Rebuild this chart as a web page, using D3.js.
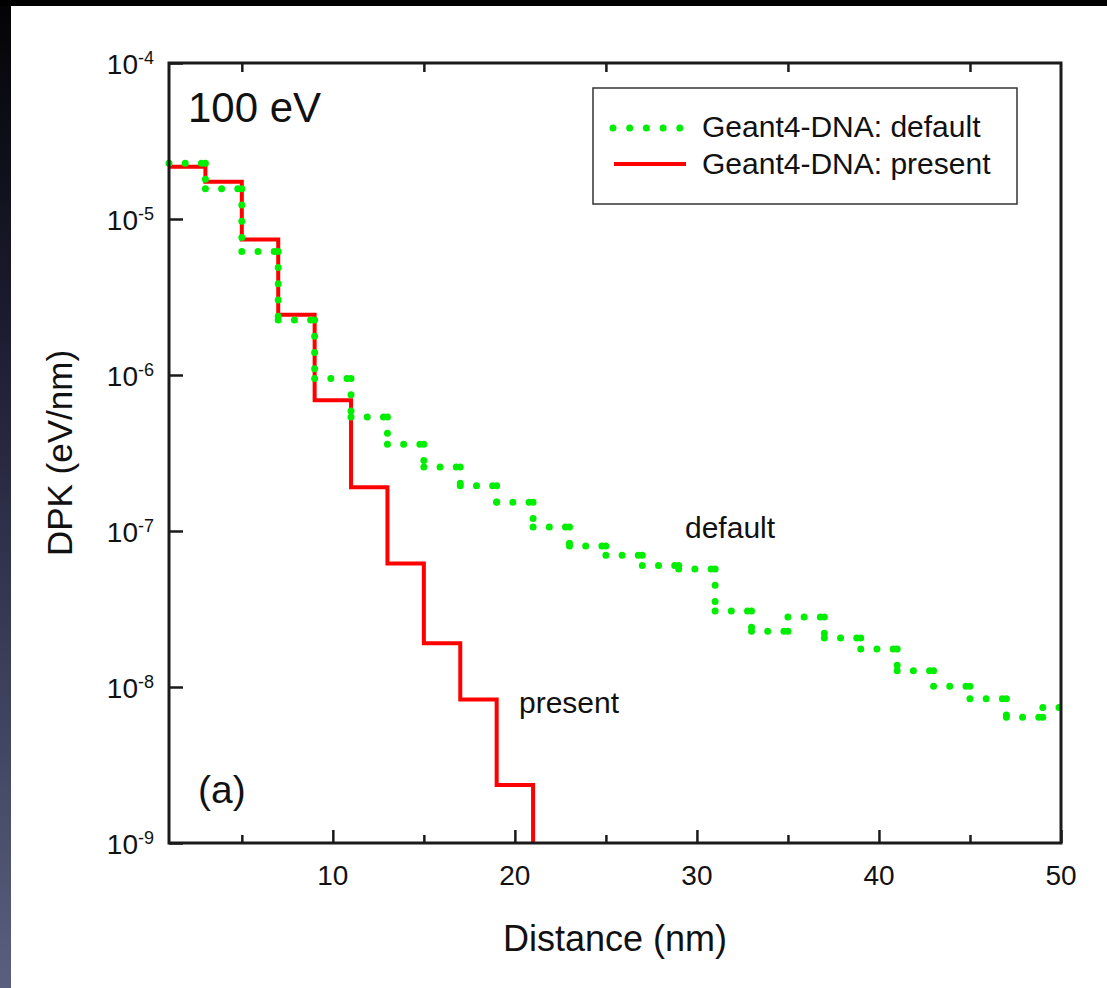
<!DOCTYPE html>
<html>
<head>
<meta charset="utf-8">
<script src="https://cdn.jsdelivr.net/npm/d3@7"></script>
<style>
  body { margin: 0; background: #000; }
  svg { display: block; }
  text { font-family: "Liberation Sans", Arial, sans-serif; fill: #111; }
</style>
</head>
<body>
<svg id="chart" width="1107" height="988"></svg>
<script>
// bins are 2 nm wide, listed by their left edge
const binWidth = 2;
const presentX = [1, 3, 5, 7, 9, 11, 13, 15, 17, 19];
const presentY = [2.16e-5, 1.73e-5, 7.4e-6, 2.43e-6, 6.9e-7, 1.91e-7, 6.2e-8, 1.91e-8, 8.3e-9, 2.35e-9];
const defaultX = [1, 3, 5, 7, 9, 11, 13, 15, 17, 19, 21, 23, 25, 27, 29, 31, 33, 35, 37, 39, 41, 43, 45, 47, 49];
const defaultY = [2.28e-5, 1.56e-5, 6.2e-6, 2.25e-6, 9.5e-7, 5.37e-7, 3.6e-7, 2.57e-7, 1.95e-7, 1.53e-7,
                  1.06e-7, 8.0e-8, 7.0e-8, 6.0e-8, 5.7e-8, 3.07e-8, 2.28e-8, 2.81e-8, 2.06e-8, 1.75e-8,
                  1.27e-8, 1.01e-8, 8.4e-9, 6.4e-9, 7.4e-9];
const xMajorTicks = [10, 20, 30, 40, 50];
const xMinorTicks = [5, 15, 25, 35, 45];
const yTickExps = [-9, -8, -7, -6, -5, -4];

const svg = d3.select("#chart");
const W = 1107, H = 988;

// page background: black band on top, dark gradient strip on the left
const defs = svg.append("defs");
const grad = defs.append("linearGradient").attr("id", "strip")
  .attr("x1", 0).attr("y1", 0).attr("x2", 0).attr("y2", 1);
grad.append("stop").attr("offset", "0").attr("stop-color", "#040406");
grad.append("stop").attr("offset", "0.35").attr("stop-color", "#1e1e34");
grad.append("stop").attr("offset", "1").attr("stop-color", "#5a5f80");
svg.append("rect").attr("width", W).attr("height", H).attr("fill", "#000");
svg.append("rect").attr("x", 0).attr("y", 6).attr("width", 11).attr("height", H - 6).attr("fill", "url(#strip)");
svg.append("rect").attr("x", 11).attr("y", 6).attr("width", W - 11).attr("height", H - 6).attr("fill", "#fff");

const x = d3.scaleLinear().domain([1, 50]).range([169, 1061]);
const y = d3.scaleLog().domain([1e-9, 1e-4]).range([843, 63]);
const [x0, x1] = x.range();
const [y1, y0] = y.range();

defs.append("clipPath").attr("id", "plot")
  .append("rect").attr("x", x0 - 6).attr("y", y0).attr("width", x1 - x0 + 6).attr("height", y1 - y0);

function stepSegments(xs, ys, last) {
  const segs = [];
  xs.forEach((xv, i) => {
    const xe = xv + binWidth;
    segs.push([xv, ys[i], xe, ys[i]]);
    const next = i < xs.length - 1 ? ys[i + 1] : last;
    if (next !== null) segs.push([xe, ys[i], xe, next]);
  });
  return segs;
}

const plot = svg.append("g").attr("clip-path", "url(#plot)");

// present: solid red step, dropping to the bottom after the last bin
const presentSegs = stepSegments(presentX, presentY, y.domain()[0]);
const line = d3.line().x(d => x(d[0])).y(d => y(d[1]));
const presentPts = [];
presentSegs.forEach(s => { presentPts.push([s[0], s[1]]); presentPts.push([s[2], s[3]]); });
plot.append("path")
  .attr("d", line(presentPts))
  .attr("fill", "none")
  .attr("stroke", "#ff0000")
  .attr("stroke-width", 4)
  .attr("stroke-linejoin", "miter");

// default: green dotted step, each segment dotted on its own
plot.selectAll("line.def")
  .data(stepSegments(defaultX, defaultY, null))
  .join("line")
  .attr("class", "def")
  .attr("x1", d => x(d[0])).attr("y1", d => y(d[1]))
  .attr("x2", d => x(d[2])).attr("y2", d => y(d[3]))
  .attr("stroke", "#00ee00")
  .attr("stroke-width", 7)
  .attr("stroke-linecap", "round")
  .attr("stroke-dasharray", "0 16.2");

// axes
const axisColor = "#1a1a1a";
const gBottom = svg.append("g").attr("transform", `translate(0,${y1})`);
gBottom.call(d3.axisBottom(x).tickValues(xMajorTicks).tickSize(-13).tickSizeOuter(0).tickFormat(""));
gBottom.append("g").call(d3.axisBottom(x).tickValues(xMinorTicks).tickSize(-8).tickSizeOuter(0).tickFormat(""));
const gTop = svg.append("g").attr("transform", `translate(0,${y0})`);
gTop.call(d3.axisTop(x).tickValues(xMinorTicks).tickSize(-9).tickSizeOuter(0).tickFormat(""));
const gLeft = svg.append("g").attr("transform", `translate(${x0},0)`);
gLeft.call(d3.axisLeft(y).tickValues(yTickExps.map(e => Math.pow(10, e))).tickSize(-14).tickSizeOuter(0).tickFormat(""));
svg.selectAll(".domain").remove();
svg.selectAll(".tick line").attr("stroke", axisColor).attr("stroke-width", 2.5);

svg.append("rect")
  .attr("x", x0).attr("y", y0).attr("width", x1 - x0).attr("height", y1 - y0)
  .attr("fill", "none").attr("stroke", axisColor).attr("stroke-width", 3);

// tick labels
svg.append("g").selectAll("text")
  .data(xMajorTicks)
  .join("text")
  .attr("x", d => x(d)).attr("y", y1 + 42)
  .attr("text-anchor", "middle")
  .attr("font-size", 28)
  .text(d => d);

const yl = svg.append("g").selectAll("text")
  .data(yTickExps)
  .join("text")
  .attr("x", 154).attr("y", d => y(Math.pow(10, d)) + 11)
  .attr("text-anchor", "end")
  .attr("font-size", 28);
yl.append("tspan").text("10");
yl.append("tspan").attr("font-size", 18).attr("dy", -10).text(d => d);

// axis titles
svg.append("text")
  .attr("x", (x0 + x1) / 2).attr("y", 951)
  .attr("text-anchor", "middle").attr("font-size", 36)
  .text("Distance (nm)");
svg.append("text")
  .attr("transform", `translate(72,${(y0 + y1) / 2}) rotate(-90)`)
  .attr("text-anchor", "middle").attr("font-size", 35)
  .text("DPK (eV/nm)");

// annotations
svg.append("text").attr("x", 188).attr("y", 122).attr("font-size", 42).text("100 eV");
svg.append("text").attr("x", 198).attr("y", 803).attr("font-size", 39).text("(a)");
svg.append("text").attr("x", 685).attr("y", 538).attr("font-size", 30).text("default");
svg.append("text").attr("x", 519).attr("y", 713).attr("font-size", 30).text("present");

// legend
const legend = svg.append("g");
legend.append("rect")
  .attr("x", 593).attr("y", 88).attr("width", 424).attr("height", 116)
  .attr("fill", "#fff").attr("stroke", "#333").attr("stroke-width", 1.5);
legend.append("line")
  .attr("x1", 613).attr("x2", 684).attr("y1", 128).attr("y2", 128)
  .attr("stroke", "#00ee00").attr("stroke-width", 7)
  .attr("stroke-linecap", "round").attr("stroke-dasharray", "0 16.7");
legend.append("line")
  .attr("x1", 614).attr("x2", 686).attr("y1", 164).attr("y2", 164)
  .attr("stroke", "#ff0000").attr("stroke-width", 4);
legend.append("text").attr("x", 702).attr("y", 137).attr("font-size", 30).text("Geant4-DNA: default");
legend.append("text").attr("x", 702).attr("y", 174).attr("font-size", 30).text("Geant4-DNA: present");
</script>
</body>
</html>
